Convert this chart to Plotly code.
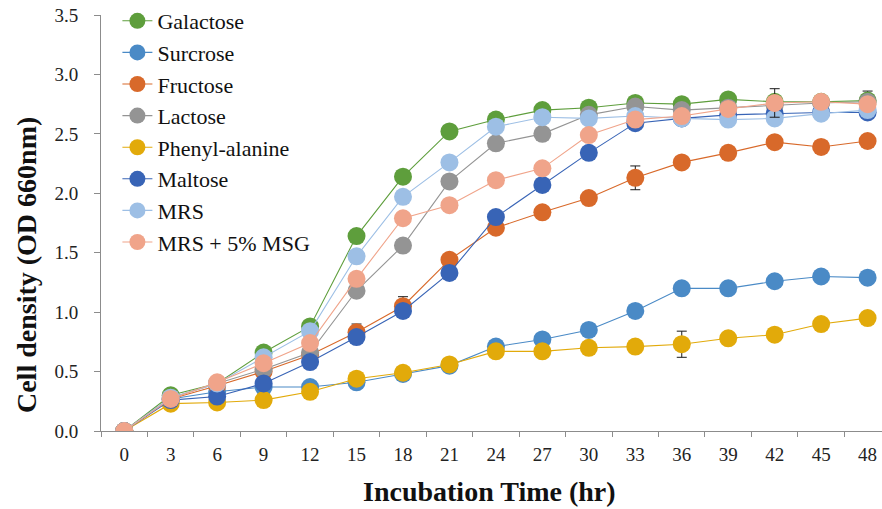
import plotly.graph_objects as go

hours = ["0", "3", "6", "9", "12", "15", "18", "21", "24", "27", "30", "33", "36", "39", "42", "45", "48"]

galactose = [0, 0.30, 0.40, 0.66, 0.88, 1.64, 2.14, 2.52, 2.62, 2.70, 2.72, 2.76, 2.75, 2.79, 2.77, 2.77, 2.78]
surcrose = [0, 0.27, 0.33, 0.37, 0.37, 0.41, 0.48, 0.55, 0.71, 0.77, 0.85, 1.01, 1.20, 1.20, 1.26, 1.30, 1.29]
fructose = [0, 0.27, 0.38, 0.50, 0.64, 0.83, 1.05, 1.44, 1.71, 1.84, 1.96, 2.13, 2.26, 2.34, 2.43, 2.39, 2.44]
lactose = [0, 0.28, 0.40, 0.52, 0.66, 1.18, 1.56, 2.10, 2.42, 2.50, 2.66, 2.73, 2.70, 2.72, 2.74, 2.76, 2.77]
phenylalanine = [0, 0.23, 0.24, 0.26, 0.33, 0.44, 0.49, 0.56, 0.67, 0.67, 0.70, 0.71, 0.73, 0.78, 0.81, 0.90, 0.95]
maltose = [0, 0.26, 0.29, 0.40, 0.58, 0.79, 1.01, 1.33, 1.80, 2.07, 2.34, 2.59, 2.63, 2.66, 2.67, 2.68, 2.68]
mrs = [0, 0.28, 0.40, 0.62, 0.84, 1.47, 1.97, 2.26, 2.56, 2.64, 2.63, 2.65, 2.63, 2.62, 2.63, 2.67, 2.70]
mrs_msg = [0, 0.27, 0.41, 0.57, 0.74, 1.28, 1.79, 1.90, 2.11, 2.21, 2.49, 2.62, 2.65, 2.71, 2.76, 2.77, 2.75]

err_galactose = [0]*16 + [0.08]
err_surcrose = [0]*17
err_fructose = [0, 0, 0, 0, 0, 0.07, 0.08, 0, 0, 0, 0, 0.10, 0, 0, 0, 0, 0]
err_lactose = [0]*17
err_phenyl = [0]*12 + [0.11] + [0]*4
err_maltose = [0]*17
err_mrs = [0]*17
err_msg = [0]*14 + [0.12, 0, 0]

names = ["Galactose", "Surcrose", "Fructose", "Lactose", "Phenyl-alanine", "Maltose", "MRS", "MRS + 5% MSG"]
series = [galactose, surcrose, fructose, lactose, phenylalanine, maltose, mrs, mrs_msg]
errors = [err_galactose, err_surcrose, err_fructose, err_lactose, err_phenyl, err_maltose, err_mrs, err_msg]
colors = ["#5E9E3C", "#4A8AC6", "#D8692A", "#949494", "#E2AA0A", "#3864B6", "#9DBFE5", "#F0A48A"]

SERIF = "Liberation Serif"

fig = go.Figure()
for name, ys, err, col in zip(names, series, errors, colors):
    fig.add_trace(go.Scatter(
        x=hours, y=ys, name=name, mode="lines+markers",
        line=dict(color=col, width=1.1),
        marker=dict(color=col, size=18),
        error_y=dict(type="data", array=err, visible=True, color="#1a1a1a", thickness=1, width=5),
    ))

fig.update_layout(
    template="none",
    width=882, height=509,
    margin=dict(l=101, r=0, t=15, b=78),
    paper_bgcolor="white", plot_bgcolor="white",
    font=dict(family=SERIF, color="#111"),
    showlegend=True,
    legend=dict(
        x=0.021, y=1.036, xanchor="left", yanchor="top",
        bgcolor="rgba(0,0,0,0)",
        font=dict(family=SERIF, size=22, color="#111"),
        itemsizing="trace",
        maxheight=400,
    ),
    xaxis=dict(
        type="category", categoryorder="array", categoryarray=hours,
        range=[-0.5, 16.31],
        tickson="boundaries", ticks="outside", ticklen=5, tickcolor="#8c8c8c",
        showline=True, linecolor="#8c8c8c", linewidth=1,
        showgrid=False, zeroline=False,
        tickfont=dict(family=SERIF, size=19, color="#222"),
        ticklabelstandoff=6,
    ),
    yaxis=dict(
        range=[0, 3.5], dtick=0.5, tickformat=".1f",
        ticks="outside", ticklen=6, tickcolor="#8c8c8c",
        showline=True, linecolor="#8c8c8c", linewidth=1,
        showgrid=False, zeroline=False,
        tickfont=dict(family=SERIF, size=19, color="#222"),
        ticklabelstandoff=12,
    ),
    annotations=[
        dict(text="<b>Cell density (OD 660nm)</b>", xref="paper", yref="paper",
             x=-0.096, y=0.399, xanchor="center", yanchor="middle", textangle=-90,
             showarrow=False, font=dict(family=SERIF, size=28, color="#111")),
        dict(text="<b>Incubation Time (hr)</b>", xref="paper", yref="paper",
             x=0.4968, y=-0.1466, xanchor="center", yanchor="middle",
             showarrow=False, font=dict(family=SERIF, size=28, color="#111")),
    ],
)

fig.write_html("out.html")
